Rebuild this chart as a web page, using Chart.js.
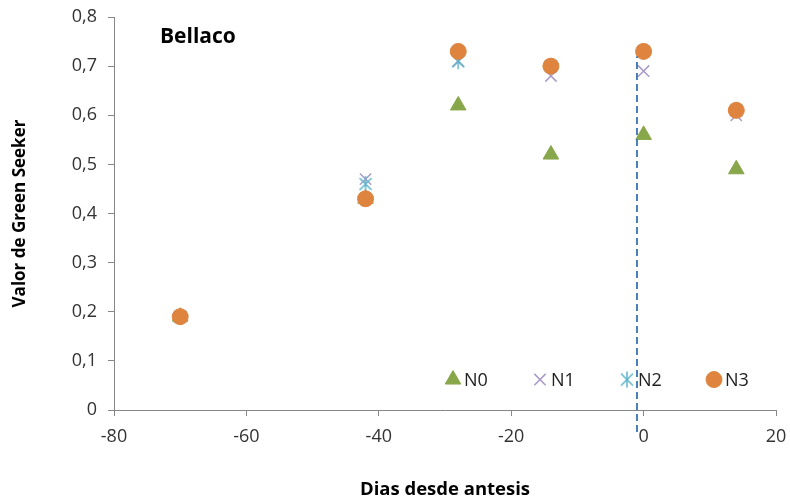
<!DOCTYPE html>
<html>
<head>
<meta charset="utf-8">
<script src="https://cdn.jsdelivr.net/npm/chart.js@4.4.1/dist/chart.umd.min.js"></script>
<style>
  html, body { margin: 0; padding: 0; background: #fff; }
</style>
</head>
<body>
<canvas id="graficoBellaco" width="790" height="503"></canvas>
<script>
// datos
const dias = [-70, -42, -28, -14, 0, 14];
const n0 = [0.19, 0.43, 0.62, 0.52, 0.56, 0.49];
const n1 = [0.19, 0.47, 0.71, 0.68, 0.69, 0.60];
const n2 = [0.19, 0.46, 0.71, 0.70, 0.73, 0.61];
const n3 = [0.19, 0.43, 0.73, 0.70, 0.73, 0.61];
const antesisX = [-1, -1];
const antesisY = [-0.045, 0.72];
const nombres = ['N0', 'N1', 'N2', 'N3'];

const fuente = 'Open Sans, Lato, sans-serif';
const gris = '#868686';

function puntos(xs, ys) {
    return xs.map((x, i) => ({ x: x, y: ys[i] }));
}

// marcador tipo asterisco (X con barra vertical) como en Excel
function asterisco(color) {
    const c = document.createElement('canvas');
    c.width = 18;
    c.height = 18;
    const g = c.getContext('2d');
    g.strokeStyle = color;
    g.lineWidth = 1.5;
    g.beginPath();
    g.moveTo(3, 3); g.lineTo(15, 15);
    g.moveTo(15, 3); g.lineTo(3, 15);
    g.moveTo(9, 1); g.lineTo(9, 17);
    g.stroke();
    return c;
}

// leyenda dentro del area del grafico
const leyenda = {
    id: 'leyenda',
    afterDatasetsDraw(chart) {
        const ctx = chart.ctx;
        const area = chart.chartArea;
        const y = chart.scales.y.getPixelForValue(0.062);
        const series = chart.data.datasets.filter(d => nombres.includes(d.label));
        ctx.save();
        series.forEach((d, i) => {
            const x = area.left + 339 + i * 87;
            ctx.fillStyle = d.backgroundColor;
            ctx.strokeStyle = d.borderColor;
            ctx.lineWidth = d.borderWidth;
            Chart.helpers.drawPoint(ctx, {
                pointStyle: d.pointStyle,
                radius: d.pointRadius,
                rotation: 0,
                borderWidth: d.borderWidth
            }, x, y);
            ctx.fillStyle = '#222';
            ctx.font = '18px ' + fuente;
            ctx.textAlign = 'left';
            ctx.textBaseline = 'middle';
            ctx.fillText(d.label, x + 11, y + 1);
        });
        ctx.restore();

        // titulo del panel
        ctx.save();
        ctx.fillStyle = '#000';
        ctx.font = 'bold 21px ' + fuente;
        ctx.textBaseline = 'middle';
        ctx.fillText('Bellaco', area.left + 46, area.top + 20);
        ctx.restore();
    }
};

new Chart(document.getElementById('graficoBellaco'), {
    type: 'scatter',
    data: {
        datasets: [
            {
                label: 'antesis',
                data: puntos(antesisX, antesisY),
                showLine: true,
                borderColor: '#4A7EBB',
                borderWidth: 2,
                borderDash: [7, 4],
                pointRadius: 0,
                clip: false,
                order: 0
            },
            {
                label: 'N0',
                data: puntos(dias, n0),
                pointStyle: 'triangle',
                pointRadius: 9,
                backgroundColor: '#87A74A',
                borderColor: '#87A74A',
                borderWidth: 1,
                order: 4
            },
            {
                label: 'N1',
                data: puntos(dias, n1),
                pointStyle: 'crossRot',
                pointRadius: 8,
                backgroundColor: '#A99BC8',
                borderColor: '#A99BC8',
                borderWidth: 1.5,
                order: 3
            },
            {
                label: 'N2',
                data: puntos(dias, n2),
                pointStyle: asterisco('#5FB4CB'),
                pointRadius: 8,
                backgroundColor: '#5FB4CB',
                borderColor: '#5FB4CB',
                borderWidth: 1.5,
                order: 2
            },
            {
                label: 'N3',
                data: puntos(dias, n3),
                pointStyle: 'circle',
                pointRadius: 8,
                backgroundColor: '#DE843F',
                borderColor: '#DE843F',
                borderWidth: 1,
                order: 1
            }
        ]
    },
    options: {
        responsive: false,
        animation: false,
        layout: { padding: { top: 17, right: 14, left: 0, bottom: 0 } },
        plugins: {
            legend: { display: false },
            tooltip: { enabled: false }
        },
        scales: {
            x: {
                type: 'linear',
                min: -80,
                max: 20,
                ticks: { stepSize: 20, color: '#333', font: { family: fuente, size: 18 }, padding: 10 },
                grid: { drawOnChartArea: false, tickLength: 6, color: gris },
                border: { color: gris },
                title: {
                    display: true,
                    text: 'Dias desde antesis',
                    color: '#000',
                    font: { family: fuente, size: 18.5, weight: 'bold' },
                    padding: { top: 0, bottom: 2 }
                },
                afterFit(scale) {
                    scale.height = 93;
                    scale.paddingLeft = 0;
                    scale.paddingRight = 0;
                }
            },
            y: {
                min: 0,
                max: 0.8,
                ticks: {
                    stepSize: 0.1,
                    color: '#333',
                    font: { family: fuente, size: 18 },
                    padding: 11,
                    callback: v => v === 0 ? '0' : v.toFixed(1).replace('.', ',')
                },
                grid: { drawOnChartArea: false, tickLength: 6, color: gris },
                border: { color: gris },
                title: {
                    display: true,
                    text: 'Valor de Green Seeker',
                    color: '#000',
                    font: { family: fuente, size: 17, weight: 'bold' },
                    padding: { top: 10, bottom: 0 }
                },
                afterFit(scale) {
                    scale.width = 114;
                    scale.paddingTop = 0;
                    scale.paddingBottom = 0;
                }
            }
        }
    },
    plugins: [leyenda]
});
</script>
</body>
</html>
